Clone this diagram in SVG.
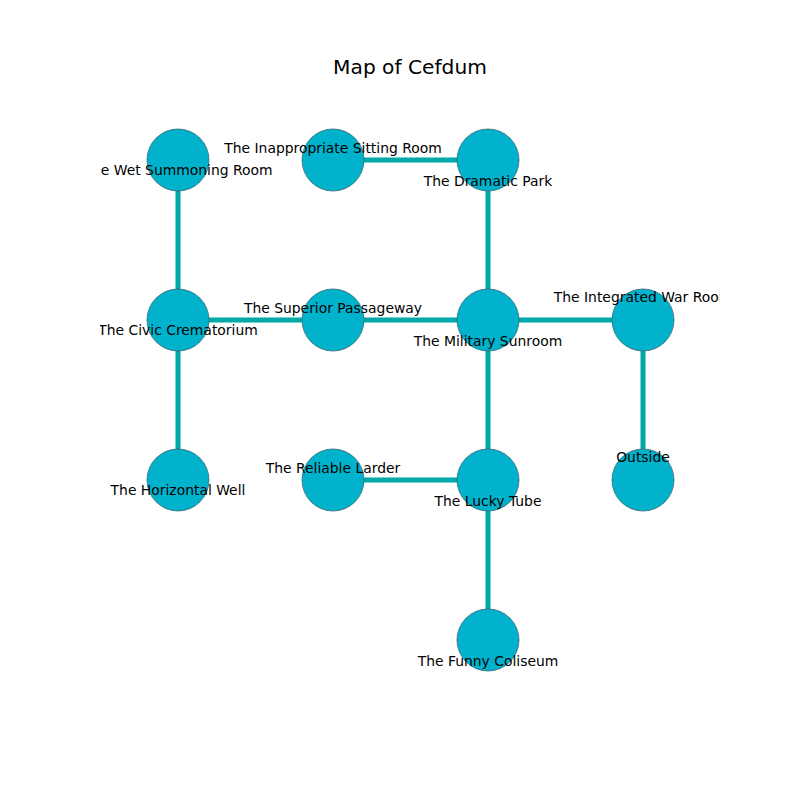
<svg xmlns="http://www.w3.org/2000/svg" width="800" height="800" viewBox="0 0 800 800">
<style>
.edge{stroke:#00a8a8;stroke-width:5;fill:none}
.node circle{fill:#00b2cc;stroke:#3a6a72;stroke-width:0.8}
.lbl{font-family:"DejaVu Sans",sans-serif;font-size:13.9px;fill:#000;text-anchor:middle;dominant-baseline:central}
.title{font-family:"DejaVu Sans",sans-serif;font-size:20.2px;fill:#000;text-anchor:middle;dominant-baseline:central}
</style>
<defs><clipPath id="ax"><rect x="100" y="96" width="620" height="608"/></clipPath></defs>
<rect width="800" height="800" fill="#fff"/>
<text class="title" x="410" y="67">Map of Cefdum</text>
<g id="edges" clip-path="url(#ax)">
<line class="edge" x1="178" y1="160" x2="178" y2="320"/>
<line class="edge" x1="178" y1="320" x2="178" y2="480"/>
<line class="edge" x1="178" y1="320" x2="333" y2="320"/>
<line class="edge" x1="333" y1="320" x2="488" y2="320"/>
<line class="edge" x1="333" y1="160" x2="488" y2="160"/>
<line class="edge" x1="488" y1="160" x2="488" y2="320"/>
<line class="edge" x1="488" y1="320" x2="643" y2="320"/>
<line class="edge" x1="643" y1="320" x2="643" y2="480"/>
<line class="edge" x1="488" y1="320" x2="488" y2="480"/>
<line class="edge" x1="333" y1="480" x2="488" y2="480"/>
<line class="edge" x1="488" y1="480" x2="488" y2="640"/>
</g>
<g clip-path="url(#ax)">
<g id="n-wet" class="node"><circle cx="178" cy="160" r="31"/></g>
<g id="n-inappropriate" class="node"><circle cx="333" cy="160" r="31"/></g>
<g id="n-dramatic" class="node"><circle cx="488" cy="160" r="31"/></g>
<g id="n-civic" class="node"><circle cx="178" cy="320" r="31"/></g>
<g id="n-superior" class="node"><circle cx="333" cy="320" r="31"/></g>
<g id="n-military" class="node"><circle cx="488" cy="320" r="31"/></g>
<g id="n-integrated" class="node"><circle cx="643" cy="320" r="31"/></g>
<g id="n-horizontal" class="node"><circle cx="178" cy="480" r="31"/></g>
<g id="n-reliable" class="node"><circle cx="333" cy="480" r="31"/></g>
<g id="n-lucky" class="node"><circle cx="488" cy="480" r="31"/></g>
<g id="n-outside" class="node"><circle cx="643" cy="480" r="31"/></g>
<g id="n-funny" class="node"><circle cx="488" cy="640" r="31"/></g>
</g>
<g id="labels" clip-path="url(#ax)">
<text class="lbl" x="178" y="170">The Wet Summoning Room</text>
<text class="lbl" x="333" y="148">The Inappropriate Sitting Room</text>
<text class="lbl" x="488" y="181">The Dramatic Park</text>
<text class="lbl" x="178" y="330">The Civic Crematorium</text>
<text class="lbl" x="333" y="308">The Superior Passageway</text>
<text class="lbl" x="488" y="341">The Military Sunroom</text>
<text class="lbl" x="643" y="297">The Integrated War Room</text>
<text class="lbl" x="178" y="490">The Horizontal Well</text>
<text class="lbl" x="333" y="468">The Reliable Larder</text>
<text class="lbl" x="488" y="501">The Lucky Tube</text>
<text class="lbl" x="643" y="457">Outside</text>
<text class="lbl" x="488" y="661">The Funny Coliseum</text>
</g>
</svg>
